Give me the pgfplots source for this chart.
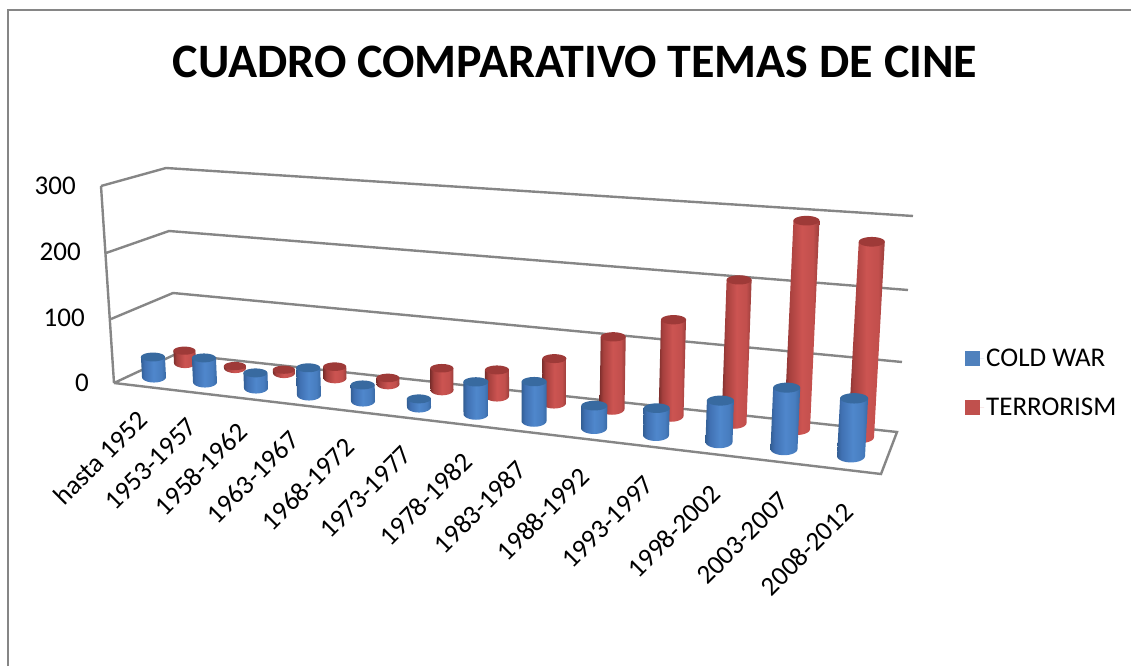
\documentclass[border=0pt]{standalone}
\usepackage{fontspec}
\setmainfont{Carlito}
\usepackage{pgfplots}
\pgfplotsset{compat=1.18}

% horizontal shadings of the cylinders: the path fits between 25bp and 75bp
\pgfdeclarehorizontalshading{bluecyl}{100bp}{rgb(0bp)=(0.20,0.37,0.58);
  rgb(25bp)=(0.20,0.37,0.58); rgb(32bp)=(0.25,0.44,0.70); rgb(50bp)=(0.31,0.53,0.80);
  rgb(66bp)=(0.28,0.49,0.75); rgb(75bp)=(0.22,0.41,0.64); rgb(100bp)=(0.22,0.41,0.64)}
\pgfdeclarehorizontalshading{redcyl}{100bp}{rgb(0bp)=(0.48,0.18,0.17);
  rgb(25bp)=(0.48,0.18,0.17); rgb(32bp)=(0.65,0.25,0.24); rgb(50bp)=(0.80,0.33,0.32);
  rgb(66bp)=(0.76,0.31,0.30); rgb(75bp)=(0.60,0.24,0.23); rgb(100bp)=(0.60,0.24,0.23)}

\definecolor{wall}{HTML}{868686}
\definecolor{coldwar}{HTML}{4F81BD}
\definecolor{terror}{HTML}{C0504D}
\definecolor{coldtop}{HTML}{386AA0}
\definecolor{terrortop}{HTML}{9E3A38}

% one cylinder: shading, top colour, base x, base y (pixels), value, half width
\newcommand{\cyl}[6]{%
  \pgfmathsetmacro\h{#5*(0.64+0.000115*(#3-114))}%
  \pgfmathsetmacro\yt{#4-\h}%
  \pgfmathsetmacro\xt{#3+\h*0.00015*(#3-500)}%
  \pgfmathsetmacro\ryt{0.37*#6}%
  \pgfmathsetmacro\ryb{0.46*#6}%
  \gdef\body{}%
  \foreach \a in {180,190,...,360}{%
    \pgfmathsetmacro\px{#3+#6*cos(\a)}%
    \pgfmathsetmacro\py{#4-\ryb*sin(\a)}%
    \xdef\body{\body (\px,\py) }}%
  \pgfmathsetmacro\pa{\xt+#6}%
  \pgfmathsetmacro\pb{\xt-#6}%
  \edef\tmp{\noexpand\addplot[forget plot,draw=none,shade,shading=#1]
    coordinates {\body (\pa,\yt) (\pb,\yt)} -- cycle;}\tmp
  \gdef\body{}%
  \foreach \a in {0,10,...,350}{%
    \pgfmathsetmacro\px{\xt+#6*cos(\a)}%
    \pgfmathsetmacro\py{\yt-\ryt*sin(\a)}%
    \xdef\body{\body (\px,\py) }}%
  \edef\tmp{\noexpand\addplot[forget plot,draw=none,fill=#2]
    coordinates {\body} -- cycle;}\tmp
}
\newcommand{\cat}[3]{\node[rotate=45,anchor=east,font=\fontsize{27}{27}\selectfont] at (axis cs:#1,#2) {#3};}
\newcommand{\val}[3]{\node[anchor=east,inner sep=0pt,font=\fontsize{27}{27}\selectfont] at (axis cs:#1,#2) {#3};}

\begin{document}
\begin{tikzpicture}
\begin{axis}[
    scale only axis, width=1131pt, height=666pt,
    xmin=0, xmax=1131, ymin=0, ymax=666, y dir=reverse,
    axis line style={draw=none}, tick style={draw=none},
    xtick=\empty, ytick=\empty,
    legend style={at={(axis cs:965,347)}, anchor=north west, draw=none, fill=none,
      font=\fontsize{27}{27}\selectfont, row sep=26pt, inner sep=0pt,
      /tikz/every even column/.append style={column sep=0pt}},
    legend cell align=left,
    legend image code/.code={\fill[#1,draw=none] (0pt,-7.5pt) rectangle (15pt,7.5pt);
      \path[draw=none] (0pt,0pt) -- (19pt,0pt);},
  ]
  % chart border, open to the right and below
  \addplot[forget plot,wall,line width=2.2pt] coordinates {(8,666) (8,10) (1131,10)};
  % side wall
  \addplot[forget plot,wall,line width=2.4pt] coordinates {(101,186) (114,383)};
  \addplot[forget plot,wall,line width=2.4pt] coordinates {(101,186) (166,168) (913,216)};
  \addplot[forget plot,wall,line width=2.4pt] coordinates {(106,253) (169,231) (908,290)};
  \addplot[forget plot,wall,line width=2.4pt] coordinates {(111,319) (173,293) (902,362)};
  % floor
  \addplot[forget plot,wall,line width=2.4pt] coordinates {(114,383) (176,354) (897,432) (881,474) (114,383)};

  % TERRORISM
  \cyl{redcyl}{terrortop}{185}{363}{19}{11}
  \cyl{redcyl}{terrortop}{235}{368}{3}{11}
  \cyl{redcyl}{terrortop}{284}{373}{5}{11}
  \cyl{redcyl}{terrortop}{335}{378}{17}{11.5}
  \cyl{redcyl}{terrortop}{388}{384}{9}{11.5}
  \cyl{redcyl}{terrortop}{442}{390}{32}{11.5}
  \cyl{redcyl}{terrortop}{497}{396}{38}{12}
  \cyl{redcyl}{terrortop}{554}{403}{64}{12}
  \cyl{redcyl}{terrortop}{612}{409}{103}{12.5}
  \cyl{redcyl}{terrortop}{671}{416}{136}{12.5}
  \cyl{redcyl}{terrortop}{734}{423}{200}{12.5}
  \cyl{redcyl}{terrortop}{797}{429}{288}{13}
  \cyl{redcyl}{terrortop}{861}{437}{267}{13}
  % COLD WAR
  \cyl{bluecyl}{coldtop}{154}{377}{31}{12}
  \cyl{bluecyl}{coldtop}{205}{382}{37}{12}
  \cyl{bluecyl}{coldtop}{256}{388}{23}{12}
  \cyl{bluecyl}{coldtop}{309}{395}{41}{12}
  \cyl{bluecyl}{coldtop}{363}{401}{24}{12}
  \cyl{bluecyl}{coldtop}{419}{407}{12}{12}
  \cyl{bluecyl}{coldtop}{476}{414}{47}{12.5}
  \cyl{bluecyl}{coldtop}{534}{421}{57}{12.5}
  \cyl{bluecyl}{coldtop}{594}{428}{32}{13}
  \cyl{bluecyl}{coldtop}{656}{435}{38}{13}
  \cyl{bluecyl}{coldtop}{719}{442}{58}{13.5}
  \cyl{bluecyl}{coldtop}{784}{449}{85}{13.5}
  \cyl{bluecyl}{coldtop}{851}{456}{79}{14}

  \addlegendimage{fill=coldwar}
  \addlegendentry{COLD WAR}
  \addlegendimage{fill=terror}
  \addlegendentry{TERRORISM}

  \node[font=\bfseries\fontsize{48}{48}\selectfont] at (axis cs:575,62) {CUADRO COMPARATIVO TEMAS DE CINE};

  \val{76}{186}{300}
  \val{81}{252}{200}
  \val{85}{318}{100}
  \val{89}{383}{0}

  % category labels, along the front edge of the floor
  \cat{145}{413}{hasta 1952}
  \cat{195}{420}{1953-1957}
  \cat{245}{425}{1958-1962}
  \cat{297}{433}{1963-1967}
  \cat{352}{440}{1968-1972}
  \cat{410}{448}{1973-1977}
  \cat{470}{455}{1978-1982}
  \cat{524}{463}{1983-1987}
  \cat{587}{470}{1988-1992}
  \cat{652}{478}{1993-1997}
  \cat{718}{487}{1998-2002}
  \cat{787}{494}{2003-2007}
  \cat{851}{505}{2008-2012}
\end{axis}
\end{tikzpicture}
\end{document}
